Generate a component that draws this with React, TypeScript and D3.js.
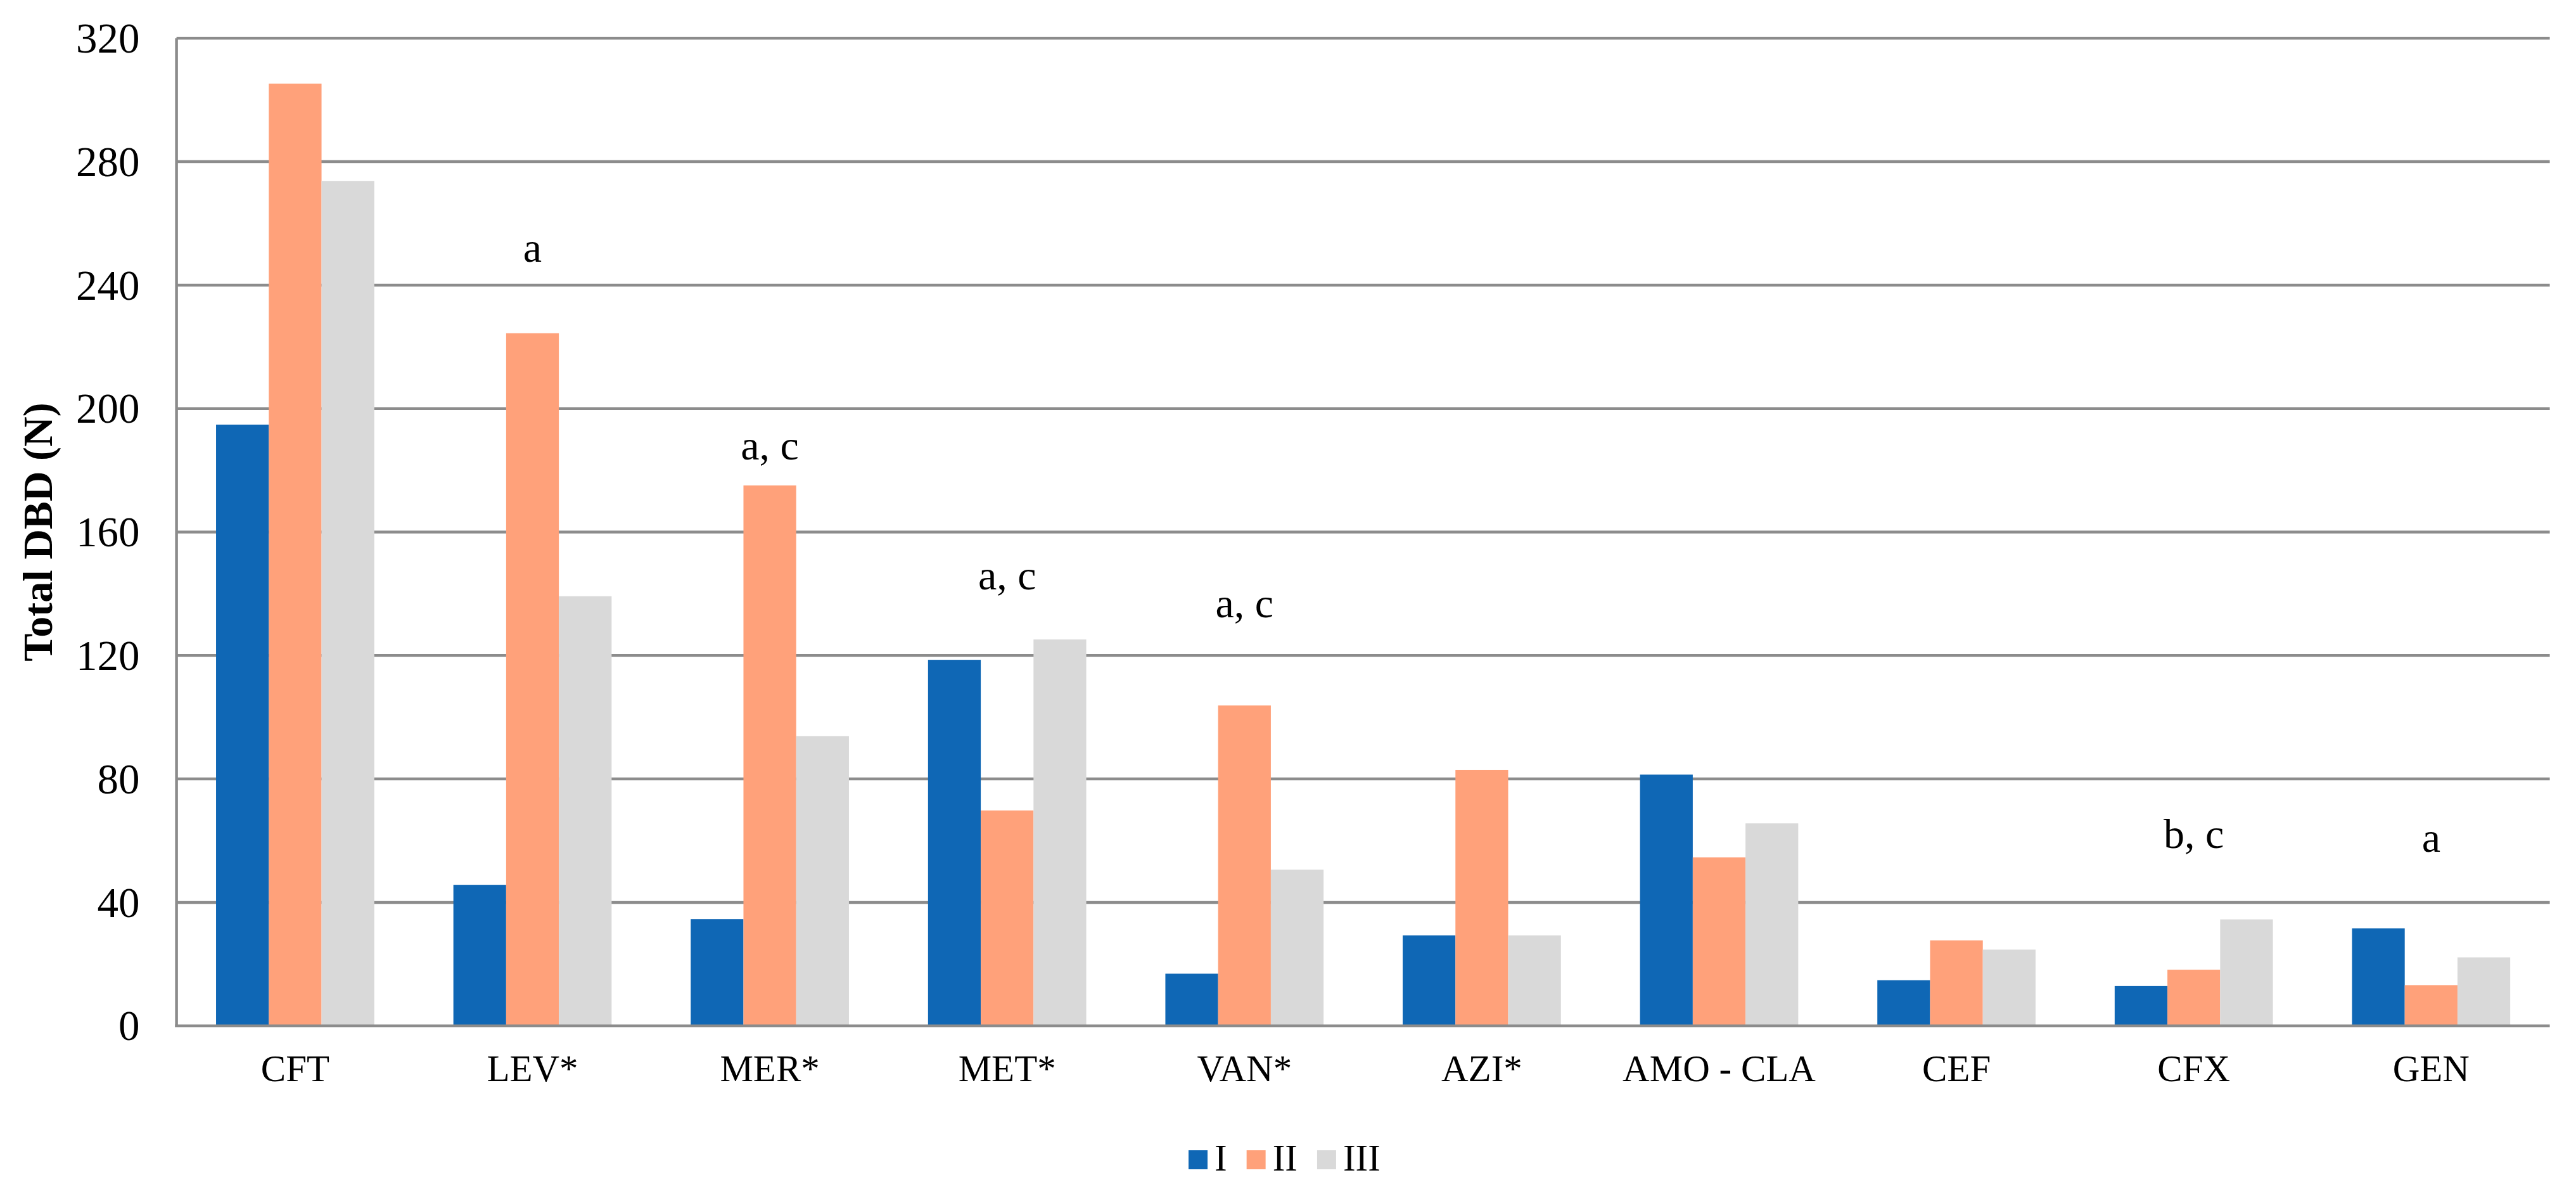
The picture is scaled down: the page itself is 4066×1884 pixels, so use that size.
import React, { useEffect, useRef } from 'react';
import * as d3 from 'd3';

// --- Data ---
const categories = ['CFT', 'LEV*', 'MER*', 'MET*', 'VAN*', 'AZI*', 'AMO - CLA', 'CEF', 'CFX', 'GEN'];
const seriesNames = ['I', 'II', 'III'];
const seriesI = [194.8, 45.7, 34.6, 118.6, 16.9, 29.3, 81.4, 14.8, 12.9, 31.6];
const seriesII = [305.3, 224.4, 175.1, 69.8, 103.8, 82.9, 54.6, 27.7, 18.2, 13.2];
const seriesIII = [273.7, 139.2, 93.9, 125.2, 50.6, 29.3, 65.6, 24.7, 34.5, 22.2];
const yTicks = [0, 40, 80, 120, 160, 200, 240, 280, 320];
// significance letters and the value level where their baseline sits
const annotText = ['', 'a', 'a, c', 'a, c', 'a, c', '', '', '', 'b, c', 'a'];
const annotLevel = [0, 247.6, 183.6, 141.5, 132.3, 0, 0, 0, 57.6, 56.4];

const App: React.FC = () => {
  const svgRef = useRef<SVGSVGElement>(null);
  const WIDTH = 4066;
  const HEIGHT = 1884;
  const MARGIN = { top: 60.3, right: 41.4, bottom: 265.3, left: 278.6 };

  useEffect(() => {
    document.body.style.margin = '0';
    if (!svgRef.current) return;

    const svg = d3.select(svgRef.current);
    svg.selectAll('*').remove();

    const font = '"Liberation Serif", "Times New Roman", serif';
    const colors = ['#0F67B5', '#FFA17A', '#D9D9D9'];
    const gridColor = '#8C8C8C';

    const innerWidth = WIDTH - MARGIN.left - MARGIN.right;
    const innerHeight = HEIGHT - MARGIN.top - MARGIN.bottom;

    const g = svg.append('g')
      .attr('transform', `translate(${MARGIN.left},${MARGIN.top})`);

    const x0 = d3.scaleBand<string>()
      .domain(categories)
      .range([0, innerWidth])
      .paddingInner(1 / 3)
      .paddingOuter(1 / 6);

    const x1 = d3.scaleBand<string>()
      .domain(seriesNames)
      .range([0, x0.bandwidth()]);

    const y = d3.scaleLinear().domain([0, 320]).range([innerHeight, 0]);

    // --- Grid ---
    g.selectAll('line.grid')
      .data(yTicks.filter(t => t > 0))
      .enter()
      .append('line')
      .attr('class', 'grid')
      .attr('x1', 0)
      .attr('x2', innerWidth)
      .attr('y1', d => y(d))
      .attr('y2', d => y(d))
      .attr('stroke', gridColor)
      .attr('stroke-width', 4.5);

    // --- Bars ---
    const allSeries = [seriesI, seriesII, seriesIII];
    categories.forEach((cat, ci) => {
      const grp = g.append('g').attr('transform', `translate(${x0(cat)},0)`);
      allSeries.forEach((vals, si) => {
        grp.append('rect')
          .attr('x', x1(seriesNames[si])!)
          .attr('y', y(vals[ci]))
          .attr('width', x1.bandwidth())
          .attr('height', y(0) - y(vals[ci]))
          .attr('fill', colors[si]);
      });
    });

    // --- Axes lines ---
    g.append('line')
      .attr('x1', 0).attr('x2', 0)
      .attr('y1', 0).attr('y2', innerHeight + 2.25)
      .attr('stroke', gridColor).attr('stroke-width', 4.5);
    g.append('line')
      .attr('x1', -2.25).attr('x2', innerWidth)
      .attr('y1', innerHeight).attr('y2', innerHeight)
      .attr('stroke', gridColor).attr('stroke-width', 4.5);

    // --- Tick labels ---
    g.selectAll('text.ytick')
      .data(yTicks)
      .enter()
      .append('text')
      .attr('class', 'ytick')
      .attr('x', -58)
      .attr('y', d => y(d))
      .attr('dy', '0.34em')
      .attr('text-anchor', 'end')
      .attr('font-family', font)
      .attr('font-size', 67)
      .attr('fill', '#000')
      .text(d => d);

    g.selectAll('text.xtick')
      .data(categories)
      .enter()
      .append('text')
      .attr('class', 'xtick')
      .attr('x', d => x0(d)! + x0.bandwidth() / 2)
      .attr('y', innerHeight + 87)
      .attr('text-anchor', 'middle')
      .attr('font-family', font)
      .attr('font-size', 59)
      .attr('fill', '#000')
      .text(d => d);

    // --- Significance letters ---
    categories.forEach((cat, ci) => {
      if (!annotText[ci]) return;
      g.append('text')
        .attr('x', x0(cat)! + x0.bandwidth() / 2)
        .attr('y', y(annotLevel[ci]))
        .attr('text-anchor', 'middle')
        .attr('font-family', font)
        .attr('font-size', 66)
        .attr('fill', '#000')
        .text(annotText[ci]);
    });

    // --- Y axis title ---
    svg.append('text')
      .attr('transform', `translate(82,${MARGIN.top + innerHeight / 2}) rotate(-90)`)
      .attr('text-anchor', 'middle')
      .attr('font-family', font)
      .attr('font-size', 66)
      .attr('font-weight', 'bold')
      .attr('fill', '#000')
      .text('Total DBD (N)');

    // --- Legend ---
    const legendFont = 59;
    const charW = 0.333 * legendFont;
    const legend = svg.append('g').attr('transform', `translate(1876,1815)`);
    let lx = 0;
    seriesNames.forEach((name, i) => {
      legend.append('rect')
        .attr('x', lx).attr('y', 0)
        .attr('width', 30).attr('height', 30)
        .attr('fill', colors[i]);
      legend.append('text')
        .attr('x', lx + 41)
        .attr('y', 32)
        .attr('font-family', font)
        .attr('font-size', legendFont)
        .attr('fill', '#000')
        .text(name);
      lx += 41 + charW * name.length + 31;
    });
  }, []);

  return (
    <svg
      ref={svgRef}
      width={WIDTH}
      height={HEIGHT}
      viewBox={`0 0 ${WIDTH} ${HEIGHT}`}
      style={{ display: 'block', background: '#fff' }}
    />
  );
};

export default App;
